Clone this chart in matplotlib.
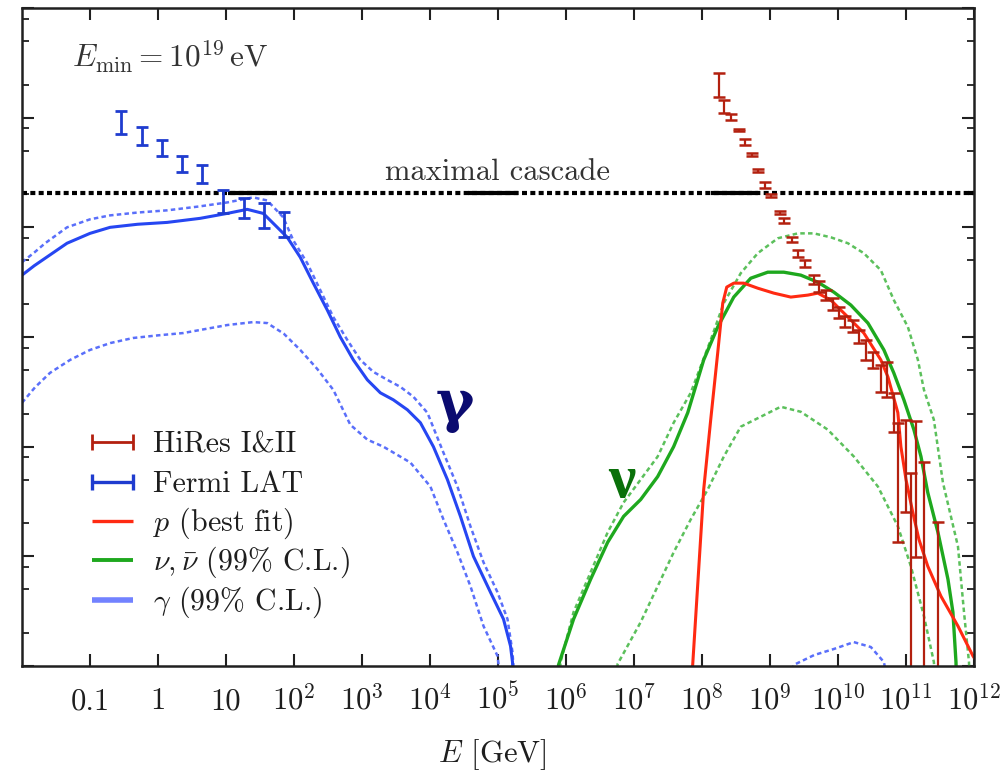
import numpy as np
import matplotlib
matplotlib.use("Agg")
import matplotlib.pyplot as plt
from matplotlib.ticker import FixedLocator, FixedFormatter, NullFormatter, NullLocator

plt.rcParams.update({
    "font.family": "serif",
    "font.serif": ["cmr10"],
    "mathtext.fontset": "cm",
    "axes.unicode_minus": False,
})

# ---------------- data (log10 E [GeV], log10 E^2 J) ----------------
# Fermi LAT diffuse gamma-ray background
fermi_logE = [-0.55, -0.24, 0.06, 0.36, 0.65, 0.96, 1.26, 1.56, 1.86]
fermi_logF = [-6.04, -6.164, -6.273, -6.418, -6.518, -6.768, -6.827, -6.895, -6.977]
fermi_err = [0.105, 0.082, 0.073, 0.073, 0.082, 0.105, 0.09, 0.114, 0.114]

# HiRes I & II cosmic-ray spectrum (lower error inf = bar down to zero)
hires_logE = [8.25, 8.33, 8.42, 8.54, 8.63, 8.74, 8.83, 8.92, 9.02, 9.15, 9.20,
              9.32, 9.41, 9.52, 9.64, 9.72, 9.82, 9.92, 10.01, 10.11, 10.22,
              10.31, 10.41, 10.51, 10.63, 10.72, 10.82, 10.88, 11.00, 11.08,
              11.15, 11.26, 11.47]
hires_logF = [-5.70, -5.895, -5.995, -6.11, -6.218, -6.336, -6.482, -6.614,
              -6.709, -6.864, -6.941, -7.114, -7.241, -7.332, -7.477, -7.541,
              -7.618, -7.70, -7.777, -7.859, -7.90, -7.995, -8.118, -8.209,
              -8.377, -8.39, -8.69, -9.327, -9.177, -9.48, -9.39, -9.6, -10.0]
hires_up = [0.11, 0.06, 0.03, 0.01, 0.027, 0.01, 0.01, 0.023, 0.01, 0.01, 0.023,
            0.023, 0.03, 0.03, 0.04, 0.05, 0.045, 0.055, 0.05, 0.05, 0.055,
            0.06, 0.09, 0.07, 0.12, 0.16, 0.18, 0.545, 0.42, 0.24, 0.62, 0.46, 0.31]
hires_dn = [0.11, 0.06, 0.03, 0.01, 0.027, 0.01, 0.01, 0.023, 0.01, 0.01, 0.023,
            0.023, 0.03, 0.03, 0.04, 0.05, 0.045, 0.055, 0.05, 0.05, 0.055,
            0.06, 0.09, 0.07, 0.12, 0.16, 0.18, 0.545, 0.42, np.inf, 0.62,
            np.inf, np.inf]

# proton best fit
p_logE = [7.80, 7.863, 8.025, 8.128, 8.231, 8.305, 8.364, 8.467, 8.614, 8.82,
          9.056, 9.306, 9.556, 9.703, 9.895, 10.145, 10.38, 10.63, 10.734,
          10.88, 10.925, 11.0, 11.10, 11.19, 11.32, 11.514, 11.764, 11.985, 12.05]
p_logF = [-11.3, -10.99, -9.39, -8.755, -8.145, -7.691, -7.545, -7.509, -7.509,
          -7.555, -7.6, -7.636, -7.618, -7.6, -7.664, -7.818, -7.964, -8.209,
          -8.364, -8.69, -9.0, -9.3, -9.6, -9.845, -10.09, -10.364, -10.636,
          -10.909, -10.97]

# neutrinos: best fit and 99% C.L. band
nu_logE = [5.85, 5.89, 6.111, 6.362, 6.612, 6.847, 7.098, 7.348, 7.583, 7.79,
           8.025, 8.231, 8.467, 8.717, 8.967, 9.203, 9.453, 9.703, 9.939,
           10.189, 10.44, 10.675, 10.82, 10.969, 11.116, 11.22, 11.32, 11.47,
           11.617, 11.69, 11.735, 11.75]
nu_logF = [-11.3, -10.99, -10.573, -10.209, -9.873, -9.636, -9.482, -9.273, -9.0,
           -8.691, -8.209, -7.909, -7.636, -7.464, -7.409, -7.409, -7.436, -7.5,
           -7.591, -7.709, -7.873, -8.118, -8.327, -8.573, -8.845, -9.09, -9.418,
           -9.782, -10.209, -10.509, -10.964, -11.3]

nu_hi_logE = [5.88, 5.92, 6.111, 6.362, 6.612, 6.847, 7.098, 7.348, 7.583, 7.834,
              8.128, 8.32, 8.57, 8.82, 9.114, 9.409, 9.644, 9.895, 10.145, 10.38,
              10.63, 10.822, 11.028, 11.175, 11.264, 11.41, 11.543, 11.764,
              11.853, 11.926, 11.95]
nu_hi_logF = [-11.3, -10.964, -10.509, -10.145, -9.782, -9.509, -9.3, -9.09,
              -8.782, -8.509, -8.027, -7.691, -7.418, -7.236, -7.1, -7.055,
              -7.055, -7.091, -7.145, -7.236, -7.391, -7.664, -7.909, -8.209,
              -8.482, -8.755, -9.327, -9.909, -10.509, -10.964, -11.3]

nu_lo_logE = [6.72, 6.759, 7.098, 7.348, 7.583, 7.834, 8.084, 8.32, 8.57, 8.864,
              9.158, 9.453, 9.85, 10.233, 10.587, 10.881, 11.072, 11.264, 11.41,
              11.45]
nu_lo_logF = [-11.3, -10.982, -10.6, -10.273, -9.964, -9.664, -9.391, -9.091,
              -8.818, -8.727, -8.636, -8.682, -8.845, -9.09, -9.364, -9.727,
              -10.091, -10.545, -10.964, -11.3]

# cascade gamma rays: best fit and 99% C.L. band
gam_logE = [-2.0, -1.82, -1.66, -1.338, -1.0, -0.705, -0.3, 0.135, 0.62, 1.018,
            1.312, 1.548, 1.754, 1.901, 2.092, 2.284, 2.49, 2.681, 2.873, 3.079,
            3.27, 3.461, 3.668, 3.859, 4.05, 4.256, 4.448, 4.639, 4.889, 5.081,
            5.184, 5.213, 5.24]
gam_logF = [-7.436, -7.35, -7.282, -7.145, -7.055, -7.0, -6.972, -6.955, -6.918,
            -6.873, -6.836, -6.873, -7.0, -7.091, -7.273, -7.509, -7.755, -8.0,
            -8.209, -8.391, -8.509, -8.573, -8.664, -8.782, -9.0, -9.3, -9.636,
            -10.0, -10.327, -10.573, -10.818, -10.964, -11.3]

gam_hi_logE = [-2.0, -1.82, -1.66, -1.338, -1.0, -0.705, -0.3, 0.135, 0.6, 1.018,
               1.4, 1.607, 1.842, 1.989, 2.195, 2.387, 2.578, 2.784, 2.976,
               3.167, 3.373, 3.565, 3.756, 3.962, 4.198, 4.404, 4.595, 4.787,
               4.992, 5.14, 5.213, 5.26]
gam_hi_logF = [-7.318, -7.23, -7.145, -7.0, -6.927, -6.891, -6.865, -6.845,
               -6.81, -6.773, -6.727, -6.755, -6.909, -7.118, -7.327, -7.573,
               -7.818, -8.027, -8.209, -8.318, -8.391, -8.455, -8.545, -8.691,
               -9.055, -9.364, -9.727, -10.055, -10.327, -10.573, -10.873, -11.3]

gam_lo_logE = [-2.0, -1.81, -1.588, -1.293, -1.0, -0.7, -0.366, 0.0, 0.37, 1.018,
               1.4, 1.607, 1.85, 2.092, 2.34, 2.578, 2.828, 3.079, 3.314, 3.712,
               4.006, 4.198, 4.404, 4.595, 4.787, 4.993, 5.07]
gam_lo_logF = [-8.6, -8.46, -8.327, -8.209, -8.118, -8.055, -8.009, -7.985,
               -7.964, -7.891, -7.864, -7.873, -7.97, -8.118, -8.29, -8.482,
               -8.8, -8.936, -9.0, -9.145, -9.364, -9.664, -9.964, -10.273,
               -10.636, -10.909, -11.3]

gam_tail_logE = [9.16, 9.35, 9.65, 9.939, 10.233, 10.483, 10.675, 10.78]
gam_tail_logF = [-11.3, -10.99, -10.9, -10.845, -10.782, -10.827, -10.964, -11.3]

# maximal cascade bound and its solid stretches
cascade_logF = -6.69
cascade_solid = [(1.03, 1.754), (4.566, 5.287), (8.128, 8.82), (11.91, 12.0)]

x_tick_exp = list(range(-1, 13))
x_tick_labels = ["0.1", "1", "10"] + [r"$10^{%d}$" % k for k in range(2, 13)]

legend_labels = ["HiRes I&II", "Fermi LAT", r"$p$ (best fit)",
                 r"$\nu,\bar{\nu}$ (99% C.L.)", r"$\gamma$ (99% C.L.)"]

# ---------------- colours ----------------
c_fermi = "#1f3ccf"
c_hires = "#b3200f"
c_p = "#ff2a12"
c_nu = "#1ea81e"
c_nu_band = "#5cc05c"
c_gam = "#2646f2"
c_gam_band = "#5a6ffa"
c_gam_key = "#7282ff"
c_text = "#1e1e1e"

fig = plt.figure(figsize=(10.04, 7.71), dpi=100)
ax = fig.add_axes([22 / 1004, 1 - 666 / 771, 952 / 1004, 658 / 771])
ax.set_xscale("log")
ax.set_yscale("log")


def P(a):
    return 10.0 ** np.asarray(a, dtype=float)


dash = (0, (1.8, 1.3))
ax.plot(P(gam_hi_logE), P(gam_hi_logF), color=c_gam_band, lw=1.8, ls=dash)
ax.plot(P(gam_lo_logE), P(gam_lo_logF), color=c_gam_band, lw=1.8, ls=dash)
ax.plot(P(gam_tail_logE), P(gam_tail_logF), color=c_gam_band, lw=1.8, ls=dash)
ax.plot(P(gam_logE), P(gam_logF), color=c_gam, lw=2.2)

ax.plot(P(nu_hi_logE), P(nu_hi_logF), color=c_nu_band, lw=1.8, ls=dash)
ax.plot(P(nu_lo_logE), P(nu_lo_logF), color=c_nu_band, lw=1.8, ls=dash)
ax.plot(P(nu_logE), P(nu_logF), color=c_nu, lw=2.4)

ax.plot(P(p_logE), P(p_logF), color=c_p, lw=2.2)

# maximal cascade line
ax.axhline(P(cascade_logF), color="black", lw=3.0, ls=(0, (1.2, 0.8)))
for a, b in cascade_solid:
    ax.plot(P([a, b]), P([cascade_logF, cascade_logF]), color="black", lw=3.0,
            solid_capstyle="butt")

# data points
fF = P(fermi_logF)
ferr = np.array(fermi_err)
ax.errorbar(P(fermi_logE), fF,
            yerr=[fF - fF * 10 ** (-ferr), fF * 10 ** ferr - fF],
            fmt="none", ecolor=c_fermi, elinewidth=2.0, capsize=4.3, capthick=2.0)

hF = P(hires_logF)
hup = np.array(hires_up)
hdn = np.array(hires_dn)
ax.errorbar(P(hires_logE), hF,
            yerr=[hF - hF * 10 ** (-hdn), hF * 10 ** hup - hF],
            fmt="none", ecolor=c_hires, elinewidth=1.6, capsize=4.0, capthick=1.8)

# axes
ax.set_xlim(1e-2, 1e12)
ax.set_ylim(1e-11, 1e-5)
ax.xaxis.set_major_locator(FixedLocator(P(x_tick_exp)))
ax.xaxis.set_major_formatter(FixedFormatter(x_tick_labels))
ax.xaxis.set_minor_locator(NullLocator())
ax.yaxis.set_major_locator(FixedLocator(P(np.arange(-11, -4))))
ax.yaxis.set_minor_locator(FixedLocator(
    [m * 10.0 ** k for k in range(-11, -5) for m in (2, 5, 8)]))
ax.yaxis.set_major_formatter(NullFormatter())
ax.yaxis.set_minor_formatter(NullFormatter())
ax.tick_params(which="both", direction="in", top=True, right=True,
               color="#202020")
ax.tick_params(which="major", length=8.5, width=1.5, labelsize=22,
               labelcolor=c_text, pad=31)
ax.tick_params(which="minor", length=5, width=1.3)
for s in ax.spines.values():
    s.set_linewidth(1.8)
    s.set_color("#202020")

ax.set_xlabel(r"$E$ [GeV]", fontsize=22, color=c_text)
ax.xaxis.label.set_va("baseline")
ax.xaxis.set_label_coords(0.494, -0.146)

ax.text(0.0525, 0.909, r"$E_{\rm min} = 10^{19}\,{\rm eV}$", transform=ax.transAxes,
        fontsize=22.5, color="#333333", va="baseline", ha="left")
ax.text(0.499, 0.7386, "maximal cascade", transform=ax.transAxes,
        fontsize=22, color="#333333", va="baseline", ha="center")

ax.text(0.455, 0.397, "γ", transform=ax.transAxes, fontsize=42,
        fontweight="bold", family="DejaVu Serif", color="#0b0b70",
        ha="center", va="center")
ax.text(0.630, 0.280, "ν", transform=ax.transAxes, fontsize=44,
        fontweight="bold", family="Liberation Serif", color="#0a700a",
        ha="center", va="center")

# legend, one row per entry
key_y = [0.3404, 0.2796, 0.2204, 0.1611, 0.1003]
key_styles = [
    dict(color=c_hires, lw=2.0, marker="|", markersize=11, mew=2.0),
    dict(color=c_fermi, lw=2.4, marker="|", markersize=11, mew=2.4),
    dict(color=c_p, lw=2.4),
    dict(color=c_nu, lw=2.8),
    dict(color=c_gam_key, lw=4.0),
]
for y, style, label in zip(key_y, key_styles, legend_labels):
    ax.plot([0.0735, 0.1166], [y, y], transform=ax.transAxes,
            solid_capstyle="butt", **style)
    ax.text(0.1376, y - 0.0152, label, transform=ax.transAxes, fontsize=21.5,
            color=c_text, va="baseline", ha="left")

fig.canvas.draw()
for lab in ax.get_xticklabels():
    lab.set_verticalalignment("baseline")

fig.savefig("out.png", dpi=100)
